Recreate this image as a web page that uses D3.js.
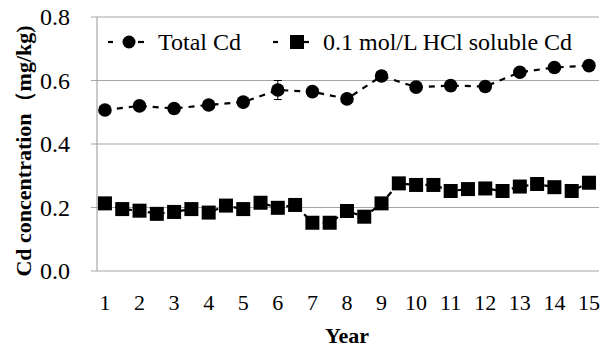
<!DOCTYPE html>
<html>
<head>
<meta charset="utf-8">
<script src="https://cdn.jsdelivr.net/npm/d3@7/dist/d3.min.js"></script>
<style>
  html, body { margin: 0; padding: 0; background: #fff; }
  svg { display: block; }
</style>
</head>
<body>
<svg id="chart" width="603" height="347" font-family="'Liberation Serif', 'Times New Roman', Times, 'DejaVu Serif', serif"></svg>
<script>
// Years on the x axis
const years = [1, 2, 3, 4, 5, 6, 7, 8, 9, 10, 11, 12, 13, 14, 15];

// Total Cd, one sample per year, with standard error
const totalCd = [0.507, 0.520, 0.512, 0.523, 0.532, 0.570, 0.565, 0.542, 0.614, 0.579, 0.584, 0.581, 0.626, 0.641, 0.647];
const totalErr = [0, 0, 0, 0, 0, 0.030, 0, 0, 0, 0, 0.016, 0, 0.008, 0, 0];

// 0.1 mol/L HCl soluble Cd, sampled twice a year
const hclTimes = [1, 1.5, 2, 2.5, 3, 3.5, 4, 4.5, 5, 5.5, 6, 6.5, 7, 7.5, 8, 8.5, 9, 9.5, 10, 10.5, 11, 11.5, 12, 12.5, 13, 13.5, 14, 14.5, 15];
const hclCd = [0.213, 0.195, 0.190, 0.180, 0.186, 0.195, 0.184, 0.206, 0.195, 0.215, 0.199, 0.208, 0.152, 0.152, 0.189,
               0.171, 0.213, 0.276, 0.271, 0.271, 0.252, 0.258, 0.260, 0.252, 0.266, 0.274, 0.264, 0.252, 0.278];

const yTicks = [0, 0.2, 0.4, 0.6, 0.8];

const svg = d3.select("#chart");
const plotL = 97, plotR = 599, plotT = 17, plotB = 271;

const x = d3.scaleLinear().domain([0.77, 15.29]).range([plotL, plotR]);
const y = d3.scaleLinear().domain([0, 0.8]).range([plotB, plotT]);

const grey = "#a6a6a6";

// horizontal gridlines with short ticks left of the axis
svg.append("g").selectAll("line").data(yTicks.filter(d => d > 0)).join("line")
  .attr("x1", plotL - 6).attr("x2", plotR)
  .attr("y1", d => y(d)).attr("y2", d => y(d))
  .attr("stroke", grey).attr("stroke-width", 1.2);

// axes
svg.append("line").attr("x1", plotL).attr("x2", plotL).attr("y1", plotT).attr("y2", plotB)
  .attr("stroke", grey).attr("stroke-width", 1.2);
svg.append("line").attr("x1", plotL - 6).attr("x2", plotR).attr("y1", plotB).attr("y2", plotB)
  .attr("stroke", grey).attr("stroke-width", 1.2);

// y tick labels
svg.append("g").selectAll("text").data(yTicks).join("text")
  .attr("x", plotL - 27).attr("y", d => y(d)).attr("dy", "0.35em")
  .attr("text-anchor", "end").attr("font-size", 24)
  .text(d => d3.format(".1f")(d));

// x tick labels
svg.append("g").selectAll("text").data(years).join("text")
  .attr("x", d => x(d)).attr("y", 302).attr("dy", "0.35em")
  .attr("text-anchor", "middle").attr("font-size", 22)
  .text(d => d);

// axis titles
svg.append("text").attr("x", 347).attr("y", 335).attr("dy", "0.35em")
  .attr("text-anchor", "middle").attr("font-size", 22).attr("font-weight", "bold").text("Year");
svg.append("text")
  .attr("transform", "translate(23,151) rotate(-90)")
  .attr("dy", "0.35em").attr("text-anchor", "middle")
  .attr("font-size", 22).attr("font-weight", "bold")
  .text("Cd concentration（mg/kg)");

const line = d3.line().x(d => x(d[0])).y(d => y(d[1]));

// HCl soluble Cd series
const hclPts = hclTimes.map((t, i) => [t, hclCd[i]]);
svg.append("path").datum(hclPts).attr("d", line)
  .attr("fill", "none").attr("stroke", "#000").attr("stroke-width", 2.2)
  .attr("stroke-dasharray", "6,5");
svg.append("g").selectAll("rect").data(hclPts).join("rect")
  .attr("x", d => x(d[0]) - 7).attr("y", d => y(d[1]) - 7)
  .attr("width", 14).attr("height", 14).attr("fill", "#000");

// Total Cd series
const totPts = years.map((t, i) => [t, totalCd[i], totalErr[i]]);
svg.append("path").datum(totPts).attr("d", line)
  .attr("fill", "none").attr("stroke", "#000").attr("stroke-width", 2.2)
  .attr("stroke-dasharray", "6,6");
const eb = svg.append("g").selectAll("g").data(totPts.filter(d => d[2] > 0)).join("g")
  .attr("stroke", "#000").attr("stroke-width", 1);
eb.append("line").attr("x1", d => x(d[0])).attr("x2", d => x(d[0]))
  .attr("y1", d => y(d[1] - d[2])).attr("y2", d => y(d[1] + d[2]));
eb.append("line").attr("x1", d => x(d[0]) - 4).attr("x2", d => x(d[0]) + 4)
  .attr("y1", d => y(d[1] - d[2])).attr("y2", d => y(d[1] - d[2]));
eb.append("line").attr("x1", d => x(d[0]) - 4).attr("x2", d => x(d[0]) + 4)
  .attr("y1", d => y(d[1] + d[2])).attr("y2", d => y(d[1] + d[2]));
svg.append("g").selectAll("circle").data(totPts).join("circle")
  .attr("cx", d => x(d[0])).attr("cy", d => y(d[1])).attr("r", 6.8).attr("fill", "#000");

// legend
const legend = [
  { label: "Total Cd", shape: "circle", x0: 108 },
  { label: "0.1 mol/L HCl soluble Cd", shape: "square", x0: 273 }
];
const ly = 42;
legend.forEach(l => {
  const g = svg.append("g");
  g.append("line").attr("x1", l.x0).attr("x2", l.x0 + 5).attr("y1", ly).attr("y2", ly)
    .attr("stroke", "#000").attr("stroke-width", 2.2);
  g.append("line").attr("x1", l.x0 + 30).attr("x2", l.x0 + 36).attr("y1", ly).attr("y2", ly)
    .attr("stroke", "#000").attr("stroke-width", 2.2);
  if (l.shape === "circle") {
    g.append("circle").attr("cx", l.x0 + 21).attr("cy", ly).attr("r", 6.5).attr("fill", "#000");
  } else {
    g.append("rect").attr("x", l.x0 + 17).attr("y", ly - 7).attr("width", 14).attr("height", 14).attr("fill", "#000");
  }
  g.append("text").attr("x", l.x0 + 50).attr("y", ly).attr("dy", "0.35em")
    .attr("font-size", 24).text(l.label);
});
</script>
</body>
</html>
